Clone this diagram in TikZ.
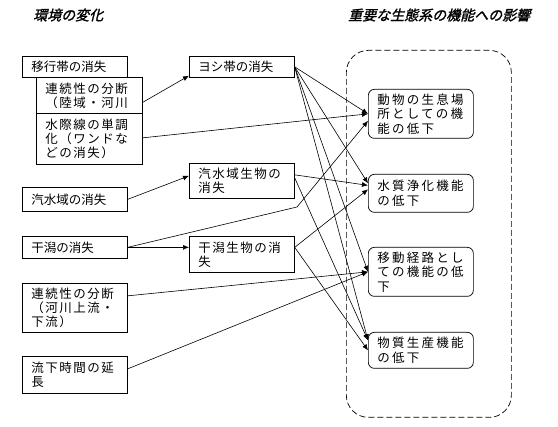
\documentclass[tikz,border=0pt]{standalone}
\usepackage{fontspec}
\usepackage{tikz}
\usetikzlibrary{arrows.meta}

\newfontfamily\jpfont{Noto Sans CJK JP}
\newfontfamily\jpwide{Noto Sans CJK JP}[LetterSpace=12]
\newfontfamily\jpwider{Noto Sans CJK JP}[LetterSpace=18]
\newfontfamily\jptitle{Noto Sans CJK JP}[FakeSlant=0.25,FakeBold=1.5]

\tikzset{
  >={Latex[length=6pt,width=5pt]},
  change/.style={draw, line width=0.7pt, anchor=north west, text width=87pt,
    inner xsep=9pt, inner ysep=1pt, align=left,
    font=\jpfont\fontsize{12.5}{14}\selectfont},
  spaced/.style={font=\jpwide\fontsize{12.5}{14}\selectfont},
  effect/.style={change, rounded corners=6pt,
    font=\jpwider\fontsize{12.5}{14.5}\selectfont},
  frame/.style={draw, dash pattern=on 6pt off 3pt, line width=0.7pt,
    rounded corners=22pt, anchor=north west, inner sep=0pt},
  heading/.style={anchor=west, inner sep=0pt,
    font=\jptitle\fontsize{14}{16}\selectfont},
  link/.style={->, line width=0.6pt}
}

\begin{document}
\begin{tikzpicture}[x=1pt, y=-1pt]
\useasboundingbox (0,0) rectangle (558,427);

\node[heading] (lefthead) at (33,15) {環境の変化};
\node[heading] (righthead) at (348,15) {重要な生態系の機能への影響};

% dashed group round the effects
\node[frame, minimum width=165pt, minimum height=367pt] (group) at (346,50) {};

% changes of the environment
\node[change, minimum height=21pt] (iko) at (22,56) {移行帯の消失};
\node[change, spaced, minimum height=36pt, text width=88pt] (ren1) at (36,77) {連続性の分断\\（陸域・河川};
\node[change, spaced, minimum height=51pt, text width=88pt] (mizu) at (36,113) {水際線の単調\\化（ワンドな\\どの消失）};
\node[change, minimum height=24pt] (kisui) at (22,187) {汽水域の消失};
\node[change, minimum height=22pt] (higata) at (22,236) {干潟の消失};
\node[change, spaced, minimum height=49pt] (ren2) at (22,283) {連続性の分断\\（河川上流・\\下流）};
\node[change, spaced, minimum height=37pt] (ryuka) at (22,356) {流下時間の延\\長};

\node[change, minimum height=21pt] (yoshi) at (189,56) {ヨシ帯の消失};
\node[change, spaced, minimum height=35pt] (kisuib) at (189,163) {汽水域生物の\\消失};
\node[change, spaced, minimum height=36pt] (higatab) at (189,236) {干潟生物の消\\失};

% effects on the ecosystem
\node[effect, minimum height=49pt] (habitat) at (368,89) {動物の生息場\\所としての機\\能の低下};
\node[effect, minimum height=38pt] (purify) at (368,174) {水質浄化機能\\の低下};
\node[effect, minimum height=49pt] (route) at (368,247) {移動経路とし\\ての機能の低\\下};
\node[effect, minimum height=36pt] (produce) at (368,332) {物質生産機能\\の低下};

\coordinate (hbend) at (297,207);

\draw[link] ([yshift=-7pt]ren1.east) -- ([yshift=2pt]yoshi.south west);
\draw[link] ([yshift=1pt]mizu.east) -- (habitat.west);
\draw[link] (kisui.east) -- ([yshift=5pt]kisuib.west);
\draw[link] (higata.east) -- ([yshift=7pt]higatab.west);
\draw[link] (higata.east) -- (hbend) -- ([yshift=-7pt]habitat.west);
\draw[link] ([yshift=12pt]ren2.east) -- (route.west);
\draw[link] ([yshift=6pt]ryuka.east) -- (route.west);

\foreach \dst/\dy in {habitat/0, purify/10, route/0, produce/10}
  \draw[link] (yoshi.east) -- ([yshift=\dy pt]\dst.west);

\draw[link] ([yshift=6pt]kisuib.east) -- ([yshift=8pt]purify.west);
\draw[link] ([yshift=3pt]kisuib.east) -- ([yshift=10pt]produce.west);
\draw[link] ([yshift=7pt]higatab.east) -- ([yshift=4pt]purify.west);
\draw[link] ([yshift=7pt]higatab.east) -- (produce.west);
\end{tikzpicture}
\end{document}
